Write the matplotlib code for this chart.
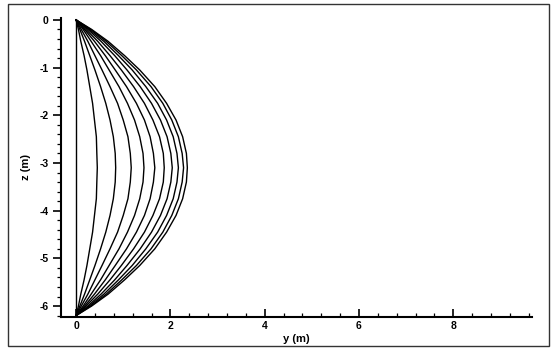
import matplotlib
matplotlib.use("Agg")
import matplotlib.pyplot as plt
from matplotlib.ticker import MultipleLocator
from matplotlib.patches import Rectangle

plt.rcParams['font.family'] = ['Liberation Sans', 'DejaVu Sans']
plt.rcParams['axes.unicode_minus'] = False

# depth nodes (m) where each profile is tabulated
depth = [0.0, -0.2, -0.45, -0.75, -1.05, -1.4, -1.75, -2.1, -2.45, -2.8, -3.1,
         -3.4, -3.75, -4.1, -4.45, -4.8, -5.15, -5.45, -5.75, -6.0, -6.2]

# lateral offset y (m) of each profile at the depth nodes
y_p0 = [0.00] * 21
y_p1 = [0.00, 0.05, 0.10, 0.17, 0.23, 0.29, 0.35, 0.39, 0.43, 0.44, 0.45,
        0.44, 0.43, 0.39, 0.35, 0.29, 0.23, 0.17, 0.10, 0.05, 0.00]
y_p2 = [0.00, 0.08, 0.18, 0.29, 0.40, 0.52, 0.63, 0.72, 0.79, 0.83, 0.84,
        0.83, 0.79, 0.72, 0.63, 0.52, 0.40, 0.29, 0.18, 0.08, 0.00]
y_p3 = [0.00, 0.11, 0.25, 0.40, 0.55, 0.72, 0.88, 1.00, 1.10, 1.15, 1.17,
        1.15, 1.10, 1.00, 0.88, 0.72, 0.55, 0.40, 0.25, 0.11, 0.00]
y_p4 = [0.00, 0.15, 0.32, 0.52, 0.70, 0.91, 1.09, 1.24, 1.35, 1.42, 1.44,
        1.42, 1.35, 1.24, 1.09, 0.91, 0.70, 0.52, 0.32, 0.15, 0.00]
y_p5 = [0.00, 0.18, 0.39, 0.62, 0.83, 1.07, 1.28, 1.45, 1.57, 1.64, 1.67,
        1.64, 1.57, 1.45, 1.28, 1.07, 0.83, 0.62, 0.39, 0.18, 0.00]
y_p6 = [0.00, 0.21, 0.46, 0.72, 0.96, 1.22, 1.45, 1.63, 1.77, 1.85, 1.87,
        1.85, 1.77, 1.63, 1.45, 1.22, 0.96, 0.72, 0.46, 0.21, 0.00]
y_p7 = [0.00, 0.25, 0.53, 0.82, 1.08, 1.36, 1.60, 1.79, 1.93, 2.01, 2.04,
        2.01, 1.93, 1.79, 1.60, 1.36, 1.08, 0.82, 0.53, 0.25, 0.00]
y_p8 = [0.00, 0.28, 0.59, 0.90, 1.19, 1.48, 1.73, 1.92, 2.06, 2.14, 2.17,
        2.14, 2.06, 1.92, 1.73, 1.48, 1.19, 0.90, 0.59, 0.28, 0.00]
y_p9 = [0.00, 0.31, 0.64, 0.97, 1.28, 1.59, 1.84, 2.03, 2.17, 2.25, 2.28,
        2.25, 2.17, 2.03, 1.84, 1.59, 1.28, 0.97, 0.64, 0.31, 0.00]
y_p10 = [0.00, 0.33, 0.68, 1.03, 1.35, 1.67, 1.92, 2.12, 2.26, 2.34, 2.36,
         2.34, 2.26, 2.12, 1.92, 1.67, 1.35, 1.03, 0.68, 0.33, 0.00]
profiles = [y_p0, y_p1, y_p2, y_p3, y_p4, y_p5, y_p6, y_p7, y_p8, y_p9, y_p10]

x_major = [0, 2, 4, 6, 8]
y_major = [0, -1, -2, -3, -4, -5, -6]

fig = plt.figure(figsize=(5.51, 3.52), dpi=100)
ax = fig.add_axes([0.1107, 0.0994, 0.8548, 0.8495])

for prof in profiles:
    ax.plot(prof, depth, color='black', lw=1.0, solid_joinstyle='round')

ax.set_xlim(-0.32, 9.67)
ax.set_ylim(-6.23, 0.04)

for side in ('top', 'right'):
    ax.spines[side].set_visible(False)
for side in ('left', 'bottom'):
    ax.spines[side].set_linewidth(1.5)

ax.set_xticks(x_major)
ax.set_yticks(y_major)
ax.xaxis.set_minor_locator(MultipleLocator(0.4))
ax.yaxis.set_minor_locator(MultipleLocator(0.2))
ax.tick_params(axis='x', which='major', direction='in', length=6, width=1.2, pad=3)
ax.tick_params(axis='x', which='minor', direction='in', length=3, width=0.9)
ax.tick_params(axis='y', which='major', direction='out', length=6, width=1.2, pad=3)
ax.tick_params(axis='y', which='minor', direction='out', length=3, width=0.9)
for lab in ax.get_xticklabels() + ax.get_yticklabels():
    lab.set_fontsize(7.5)
    lab.set_fontweight('bold')

ax.set_xlabel('y (m)', fontsize=8, fontweight='bold', labelpad=2)
ax.set_ylabel('z (m)', fontsize=8, fontweight='bold', labelpad=6)

# outer frame around the whole figure
fig.patches.append(Rectangle((8 / 551, 1 - 346 / 352), 541 / 551, 342 / 352,
                             transform=fig.transFigure, fill=False,
                             edgecolor='#333333', lw=1.0))

fig.savefig('out.png', dpi=100)
